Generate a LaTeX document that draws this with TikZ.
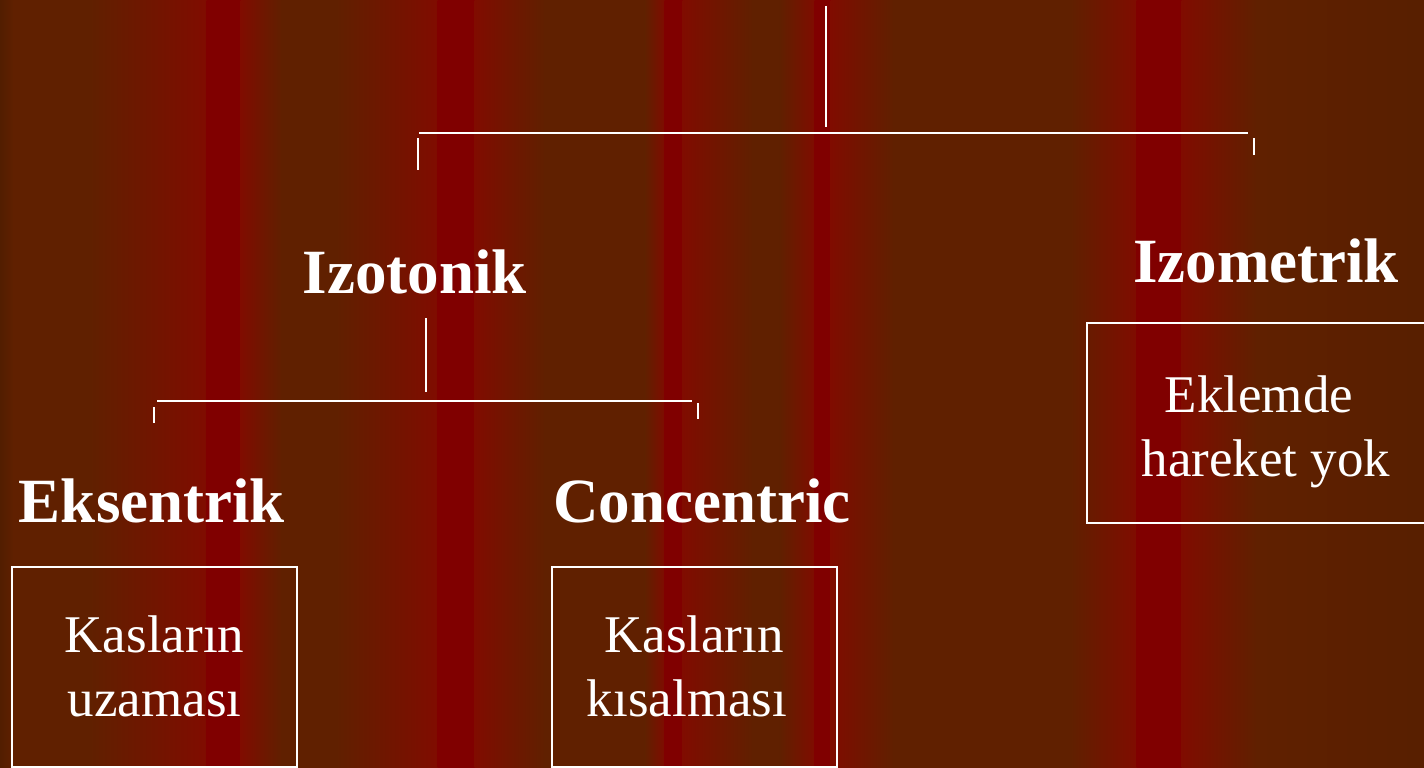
\documentclass[tikz,border=0pt]{standalone}
\usepackage{fontspec}
\setmainfont{Liberation Serif}
\definecolor{brn}{RGB}{96,32,0}
\definecolor{drk}{RGB}{82,30,0}
\definecolor{rdg}{RGB}{128,12,0}
\definecolor{rdc}{RGB}{128,0,0}
\newcommand\bgseg[4]{\shade[left color=#3,right color=#4] ({#1-0.4},-1) rectangle ({#2+0.4},769);}
\begin{document}
\begin{tikzpicture}[x=1pt,y=-1pt,
  conn/.style={white, line width=2.9pt},
  head/.style={text=white, font=\fontsize{63}{70}\selectfont\bfseries, anchor=base, inner sep=0pt},
  body/.style={text=white, font=\fontsize{53}{64}\selectfont, anchor=base, inner sep=0pt},
  box/.style={draw=white, line width=2.6pt, anchor=north west, inner sep=0pt, outer sep=0pt, minimum height=200pt}]
\useasboundingbox (0,0) rectangle (1424,768);
% background stripes
\bgseg{0}{14}{drk}{brn}
\bgseg{14}{90}{brn}{brn}
\bgseg{90}{207}{brn}{rdg}
\bgseg{207}{241}{rdc}{rdc}
\bgseg{241}{282}{rdg}{brn}
\bgseg{282}{336}{brn}{brn}
\bgseg{336}{438}{brn}{rdg}
\bgseg{438}{475}{rdc}{rdc}
\bgseg{475}{545}{rdg}{brn}
\bgseg{545}{645}{brn}{brn}
\bgseg{645}{665}{brn}{rdg}
\bgseg{665}{683}{rdc}{rdc}
\bgseg{683}{753}{rdg}{brn}
\bgseg{753}{780}{brn}{brn}
\bgseg{780}{815}{brn}{rdg}
\bgseg{815}{831}{rdc}{rdc}
\bgseg{831}{894}{rdg}{brn}
\bgseg{894}{1071}{brn}{brn}
\bgseg{1071}{1137}{brn}{rdg}
\bgseg{1137}{1182}{rdc}{rdc}
\bgseg{1182}{1257}{rdg}{brn}
\bgseg{1257}{1424}{brn}{drk!60!brn}

% headings
\node[head] (izot) at (415,293) {Izotonik};
\node[head] (izom) at (1266,282) {Izometrik};
\node[head] (eks) at (152,522) {Eksentrik};
\node[head] (con) at (702,522) {Concentric};

% boxes
\node[box, minimum width=285pt] (b1) at (12,567) {};
\node[box, minimum width=285pt] (b2) at (552,567) {};
\node[box, minimum width=358pt] (b3) at (1087,323) {};

\node[body] (t1a) at (154.5,652) {Kasların};
\node[body] (t1b) at (154.5,716) {uzaması};
\node[body] (t2a) at (694,652) {Kasların};
\node[body] (t2b) at (687,716) {kısalması};
\node[body] (t3a) at (1259,412) {Eklemde};
\node[body] (t3b) at (1266,476) {hareket yok};

% connectors, level 1
\coordinate (r0) at (826,6);
\coordinate (r1) at (826,127);
\coordinate (h1l) at (419,133);
\coordinate (h1r) at (1248,133);
\coordinate (k1a) at (418,138);
\coordinate (k1b) at (418,170);
\coordinate (k2a) at (1254,138);
\coordinate (k2b) at (1254,155);
\draw[conn] (r0) -- (r1);
\draw[conn] (h1l) -- (h1r);
\draw[conn] (k1a) -- (k1b);
\draw[conn] (k2a) -- (k2b);

% connectors, level 2
\coordinate (s0) at (426,318);
\coordinate (s1) at (426,392);
\coordinate (h2l) at (157,401);
\coordinate (h2r) at (692,401);
\coordinate (m1a) at (154,407);
\coordinate (m1b) at (154,423);
\coordinate (m2a) at (698,403);
\coordinate (m2b) at (698,419);
\draw[conn] (s0) -- (s1);
\draw[conn] (h2l) -- (h2r);
\draw[conn] (m1a) -- (m1b);
\draw[conn] (m2a) -- (m2b);
\end{tikzpicture}
\end{document}
